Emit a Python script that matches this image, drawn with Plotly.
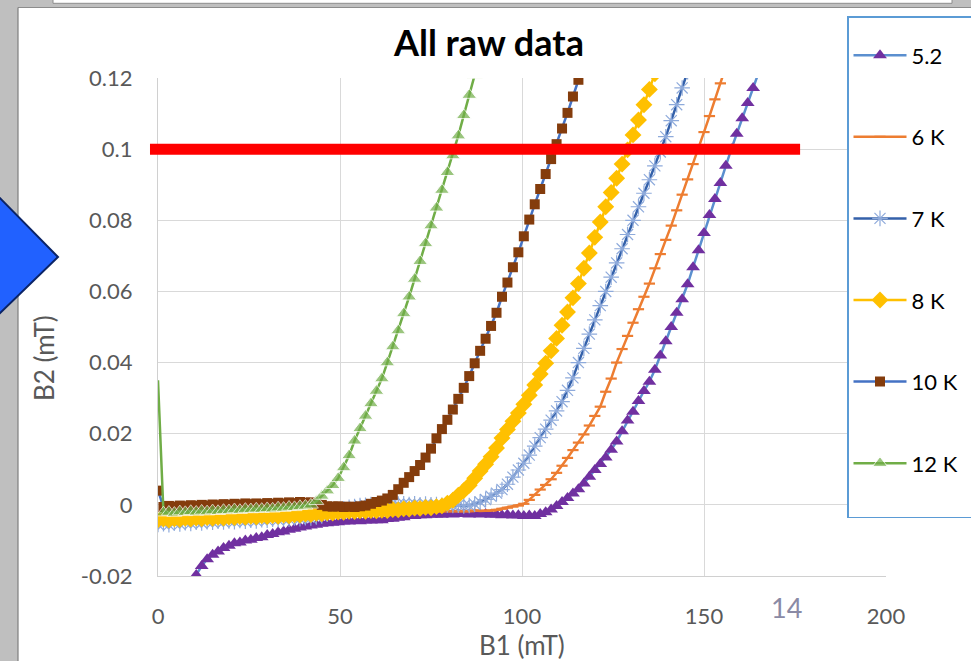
import plotly.graph_objects as go

# ---------------- data ----------------
B1_MT = [0, 1.5, 3, 4.5, 6, 7.5, 9, 10.5, 12, 13.5,
         15, 16.5, 18, 19.5, 21, 22.5, 24, 25.5, 27, 28.5,
         30, 31.5, 33, 34.5, 36, 37.5, 39, 40.5, 42, 43.5,
         45, 46.5, 48, 49.5, 51, 52.5, 54, 55.5, 57, 58.5,
         60, 61.5, 63, 64.5, 66, 67.5, 69, 70.5, 72, 73.5,
         75, 76.5, 78, 79.5, 81, 82.5, 84, 85.5, 87, 88.5,
         90, 91.5, 93, 94.5, 96, 97.5, 99, 100.5, 102, 103.5,
         105, 106.5, 108, 109.5, 111, 112.5, 114, 115.5, 117, 118.5,
         120, 121.5, 123, 124.5, 126, 127.5, 129, 130.5, 132, 133.5,
         135, 136.5, 138, 139.5, 141, 142.5, 144, 145.5, 147, 148.5,
         150, 151.5, 153, 154.5, 156, 157.5, 159, 160.5, 162, 163.5,
         165, 166.5, 168]

B2_T5_2 = [None, None, None, None, None, None, None, -0.0197, -0.0172, -0.0153,
           -0.0140, -0.0131, -0.0121, -0.0115, -0.0108, -0.0106, -0.0100, -0.0098, -0.0093, -0.0091,
           -0.0085, -0.0082, -0.0077, -0.0075, -0.0070, -0.0067, -0.0064, -0.0061, -0.0058, -0.0056,
           -0.0053, -0.0052, -0.0050, -0.0049, -0.0047, -0.0047, -0.0045, -0.0046, -0.0044, -0.0044,
           -0.0043, -0.0043, -0.0040, -0.0039, -0.0036, -0.0035, -0.0031, -0.0031, -0.0029, -0.0029,
           -0.0028, -0.0027, -0.0028, -0.0026, -0.0027, -0.0025, -0.0026, -0.0027, -0.0025, -0.0027,
           -0.0026, -0.0028, -0.0027, -0.0029, -0.0028, -0.0030, -0.0029, -0.0031, -0.0030, -0.0031,
           -0.0026, -0.0021, -0.0013, -0.0003, 0.0008, 0.0019, 0.0032, 0.0044, 0.0060, 0.0079,
           0.0098, 0.0115, 0.0133, 0.0155, 0.0178, 0.0207, 0.0237, 0.0262, 0.0292, 0.0320,
           0.0346, 0.0380, 0.0420, 0.0460, 0.0500, 0.0540, 0.0578, 0.0620, 0.0668, 0.0716,
           0.0764, 0.0815, 0.0860, 0.0905, 0.0953, 0.1000, 0.1043, 0.1087, 0.1130, 0.1172,
           0.1215, 0.1258, None]

B2_T6 = [-0.0040, -0.0038, -0.0039, -0.0036, -0.0037, -0.0035, -0.0035, -0.0033, -0.0034, -0.0032,
         -0.0033, -0.0031, -0.0032, -0.0030, -0.0031, -0.0029, -0.0030, -0.0028, -0.0029, -0.0028,
         -0.0027, -0.0028, -0.0026, -0.0027, -0.0025, -0.0026, -0.0025, -0.0024, -0.0025, -0.0023,
         -0.0024, -0.0023, -0.0022, -0.0023, -0.0022, -0.0021, -0.0022, -0.0021, -0.0020, -0.0021,
         -0.0020, -0.0021, -0.0019, -0.0020, -0.0019, -0.0020, -0.0018, -0.0019, -0.0018, -0.0019,
         -0.0018, -0.0019, -0.0017, -0.0018, -0.0017, -0.0018, -0.0017, -0.0018, -0.0016, -0.0017,
         -0.0017, -0.0016, -0.0014, -0.0011, -0.0008, -0.0005, -0.0002, 0.0003, 0.0014, 0.0028,
         0.0043, 0.0056, 0.0072, 0.0090, 0.0110, 0.0132, 0.0154, 0.0175, 0.0198, 0.0223,
         0.0250, 0.0276, 0.0318, 0.0355, 0.0400, 0.0438, 0.0475, 0.0512, 0.0550, 0.0585,
         0.0622, 0.0665, 0.0705, 0.0745, 0.0785, 0.0828, 0.0872, 0.0915, 0.0958, 0.1002,
         0.1048, 0.1093, 0.1140, 0.1185, 0.1232, None, None, None, None, None,
         None, None, None]

B2_T7 = [-0.0055, -0.0053, -0.0056, -0.0051, -0.0054, -0.0050, -0.0052, -0.0049, -0.0051, -0.0047,
         -0.0049, -0.0046, -0.0048, -0.0045, -0.0047, -0.0044, -0.0046, -0.0043, -0.0045, -0.0042,
         -0.0043, -0.0040, -0.0042, -0.0039, -0.0040, -0.0037, -0.0039, -0.0036, -0.0037, -0.0034,
         -0.0031, -0.0026, -0.0020, -0.0015, -0.0011, -0.0007, -0.0005, -0.0002, -0.0001, 0.0001,
         0.0000, 0.0003, 0.0001, 0.0004, 0.0002, 0.0003, 0.0001, 0.0003, 0.0000, 0.0002,
         0.0000, 0.0001, -0.0001, 0.0000, -0.0002, -0.0001, -0.0003, -0.0002, 0.0002, 0.0008,
         0.0015, 0.0024, 0.0033, 0.0043, 0.0058, 0.0078, 0.0098, 0.0117, 0.0140, 0.0165,
         0.0189, 0.0213, 0.0238, 0.0264, 0.0290, 0.0322, 0.0357, 0.0400, 0.0440, 0.0480,
         0.0520, 0.0560, 0.0600, 0.0640, 0.0680, 0.0720, 0.0760, 0.0800, 0.0838, 0.0876,
         0.0914, 0.0953, 0.0992, 0.1035, 0.1080, 0.1125, 0.1172, 0.1218, None, None,
         None, None, None, None, None, None, None, None, None, None,
         None, None, None]

B2_T8 = [-0.0042, -0.0040, -0.0043, -0.0039, -0.0041, -0.0038, -0.0040, -0.0037, -0.0039, -0.0036,
         -0.0038, -0.0035, -0.0037, -0.0034, -0.0036, -0.0033, -0.0035, -0.0032, -0.0034, -0.0031,
         -0.0033, -0.0030, -0.0032, -0.0029, -0.0031, -0.0028, -0.0029, -0.0026, -0.0027, -0.0024,
         -0.0025, -0.0022, -0.0023, -0.0020, -0.0021, -0.0018, -0.0019, -0.0017, -0.0018, -0.0016,
         -0.0017, -0.0015, -0.0016, -0.0013, -0.0014, -0.0011, -0.0012, -0.0009, -0.0010, -0.0007,
         -0.0008, -0.0005, -0.0003, 0.0005, 0.0013, 0.0027, 0.0040, 0.0055, 0.0075, 0.0095,
         0.0114, 0.0135, 0.0160, 0.0188, 0.0212, 0.0235, 0.0258, 0.0283, 0.0308, 0.0337,
         0.0368, 0.0398, 0.0433, 0.0468, 0.0505, 0.0542, 0.0582, 0.0622, 0.0665, 0.0708,
         0.0752, 0.0795, 0.0838, 0.0878, 0.0918, 0.0958, 0.0998, 0.1040, 0.1082, 0.1125,
         0.1168, 0.1212, None, None, None, None, None, None, None, None,
         None, None, None, None, None, None, None, None, None, None,
         None, None, None]

B2_T10 = [0.0040, -0.0006, -0.0003, -0.0005, -0.0002, -0.0004, -0.0001, -0.0003, 0.0000, -0.0002,
          0.0001, -0.0001, 0.0002, 0.0000, 0.0003, 0.0001, 0.0004, 0.0002, 0.0004, 0.0002,
          0.0005, 0.0003, 0.0006, 0.0004, 0.0007, 0.0005, 0.0008, 0.0006, 0.0007, 0.0004,
          0.0000, -0.0004, -0.0005, -0.0004, -0.0006, -0.0005, -0.0006, -0.0004, -0.0002, 0.0003,
          0.0008, 0.0012, 0.0018, 0.0028, 0.0044, 0.0062, 0.0078, 0.0095, 0.0112, 0.0133,
          0.0158, 0.0187, 0.0213, 0.0239, 0.0268, 0.0298, 0.0329, 0.0362, 0.0398, 0.0433,
          0.0467, 0.0503, 0.0540, 0.0585, 0.0625, 0.0668, 0.0710, 0.0755, 0.0802, 0.0845,
          0.0888, 0.0930, 0.0972, 0.1014, 0.1058, 0.1102, 0.1148, 0.1195, 0.1240, None,
          None, None, None, None, None, None, None, None, None, None,
          None, None, None, None, None, None, None, None, None, None,
          None, None, None, None, None, None, None, None, None, None,
          None, None, None]

B2_T12 = [0.0350, -0.0022, -0.0020, -0.0023, -0.0019, -0.0021, -0.0018, -0.0020, -0.0017, -0.0019,
          -0.0016, -0.0018, -0.0015, -0.0016, -0.0013, -0.0015, -0.0012, -0.0013, -0.0011, -0.0012,
          -0.0010, -0.0011, -0.0008, -0.0009, -0.0006, -0.0007, -0.0004, -0.0003, 0.0000, 0.0010,
          0.0025, 0.0040, 0.0055, 0.0075, 0.0105, 0.0139, 0.0180, 0.0215, 0.0250, 0.0285,
          0.0320, 0.0355, 0.0400, 0.0445, 0.0490, 0.0538, 0.0585, 0.0635, 0.0685, 0.0735,
          0.0785, 0.0835, 0.0885, 0.0935, 0.0982, 0.1038, 0.1095, 0.1152, 0.1208, 0.1265,
          None, None, None, None, None, None, None, None, None, None,
          None, None, None, None, None, None, None, None, None, None,
          None, None, None, None, None, None, None, None, None, None,
          None, None, None, None, None, None, None, None, None, None,
          None, None, None, None, None, None, None, None, None, None,
          None, None, None]

SERIES_NAMES = ["5.2", "6 K", "7 K", "8 K", "10 K", "12 K"]
X_TICKS = [0, 50, 100, 150, 200]
Y_TICKS = [-0.02, 0, 0.02, 0.04, 0.06, 0.08, 0.1, 0.12]
Y_TICK_TEXT = ["-0.02", "0", "0.02", "0.04", "0.06", "0.08", "0.1", "0.12"]
THRESHOLD_B2 = 0.1
THRESHOLD_B1_FROM, THRESHOLD_B1_TO = -2.2, 176.4
TITLE = "All raw data"
X_TITLE = "B1 (mT)"
Y_TITLE = "B2 (mT)"
PAGE_NUMBER = "14"

# ---------------- layout geometry ----------------
W, H = 971, 661
ML, MR, MT, MB = 158, 85, 78, 85
PW, PH = W - ML - MR, H - MT - MB
XMIN, XMAX = 0, 200
YMIN, YMAX = -0.02, 0.12
FONT = "Lato, 'Open Sans', sans-serif"
NBSP = "\u00a0"


def px(xp):
    return (xp - ML) / PW


def py(yp):
    return (MT + PH - yp) / PH


styles = [
    dict(line=dict(color="#5b8fcf", width=2.5),
         marker=dict(symbol="triangle-up", size=12, color="#7030a0")),
    dict(line=dict(color="#ed7d31", width=2.5),
         marker=dict(symbol="line-ew-open", size=8, color="#ed7d31",
                     line=dict(color="#ed7d31", width=2.2))),
    dict(line=dict(color="#3461aa", width=2.5),
         marker=dict(symbol="asterisk-open", size=13, color="#8eaadb",
                     line=dict(color="#8eaadb", width=1.2))),
    dict(line=dict(color="#ffc000", width=2.5),
         marker=dict(symbol="diamond", size=13, color="#ffc000")),
    dict(line=dict(color="#4472c4", width=2.5),
         marker=dict(symbol="square", size=10, color="#843c0c")),
    dict(line=dict(color="#70ad47", width=2.5),
         marker=dict(symbol="triangle-up", size=13, color="#70ad47")),
]
series = [B2_T5_2, B2_T6, B2_T7, B2_T8, B2_T10, B2_T12]

fig = go.Figure()
for name, ys, st in zip(SERIES_NAMES, series, styles):
    mk = dict(st["marker"])
    if name == "12 K":
        # first (spike) point has no visible marker in the original
        mk["size"] = [0] + [mk["size"]] * (len(ys) - 1)
    fig.add_trace(go.Scatter(x=B1_MT, y=ys, mode="lines+markers", name=name,
                             legendgroup=name, line=st["line"], marker=mk))

# invisible legend spacer: gives the legend box its bottom padding and extra width
fig.add_trace(go.Scatter(x=[None], y=[None], mode="markers", name=NBSP * 22,
                         legendgroup=SERIES_NAMES[-1], hoverinfo="skip",
                         marker=dict(color="rgba(0,0,0,0)", size=1)))

shapes = []
# slide background pieces
shapes.append(dict(type="rect", xref="paper", yref="paper", x0=px(-2), x1=px(18),
                   y0=py(-2), y1=py(H + 2), fillcolor="#bfbfbf", line=dict(width=0), layer="above"))
shapes.append(dict(type="rect", xref="paper", yref="paper", x0=px(18), x1=px(W + 2),
                   y0=py(-2), y1=py(7.5), fillcolor="#bfbfbf", line=dict(width=0), layer="above"))
shapes.append(dict(type="rect", xref="paper", yref="paper", x0=px(53), x1=px(952),
                   y0=py(-4), y1=py(3.3), fillcolor="#ffffff",
                   line=dict(color="#8c8c8c", width=1), layer="above"))
shapes.append(dict(type="line", xref="paper", yref="paper", x0=px(18), x1=px(W + 2),
                   y0=py(7.5), y1=py(7.5), line=dict(color="#8c8c8c", width=1), layer="above"))
shapes.append(dict(type="line", xref="paper", yref="paper", x0=px(18), x1=px(18),
                   y0=py(7.5), y1=py(H + 2), line=dict(color="#7f7f7f", width=1.2), layer="above"))
# blue chevron
chev = [(-6, 192), (58, 257), (-6, 319)]
path = "M " + " L ".join(f"{px(a)},{py(b)}" for a, b in chev) + " Z"
shapes.append(dict(type="path", xref="paper", yref="paper", path=path,
                   fillcolor="#2161ff", line=dict(color="#0b2466", width=2), layer="above"))
# red threshold bar
shapes.append(dict(type="line", xref="paper", yref="paper",
                   x0=(THRESHOLD_B1_FROM - XMIN) / (XMAX - XMIN),
                   x1=(THRESHOLD_B1_TO - XMIN) / (XMAX - XMIN),
                   y0=(THRESHOLD_B2 - YMIN) / (YMAX - YMIN),
                   y1=(THRESHOLD_B2 - YMIN) / (YMAX - YMIN),
                   line=dict(color="#ff0000", width=11), layer="above"))

annotations = [
    dict(text=f"<b>{TITLE}</b>", xref="paper", yref="paper", x=px(488), y=py(42),
         xanchor="center", yanchor="middle", showarrow=False,
         font=dict(family=FONT, size=36, color="#000000")),
    dict(text=X_TITLE, xref="paper", yref="paper", x=px(522), y=py(645),
         xanchor="center", yanchor="middle", showarrow=False,
         font=dict(family=FONT, size=26, color="#595959")),
    dict(text=Y_TITLE, xref="paper", yref="paper", x=px(44), y=py(358),
         xanchor="center", yanchor="middle", showarrow=False, textangle=-90,
         font=dict(family=FONT, size=26, color="#595959")),
    dict(text=PAGE_NUMBER, xref="paper", yref="paper", x=px(786), y=py(607),
         xanchor="center", yanchor="middle", showarrow=False,
         font=dict(family=FONT, size=27, color="#8a8aa5")),
]

fig.update_layout(
    width=W, height=H,
    margin=dict(l=ML, r=MR, t=MT, b=MB, autoexpand=False),
    paper_bgcolor="#ffffff", plot_bgcolor="#ffffff",
    font=dict(family=FONT, color="#595959"),
    showlegend=True,
    legend=dict(x=px(847), y=py(16), xanchor="left", yanchor="top",
                bgcolor="#ffffff", bordercolor="#5b9bd5", borderwidth=1.5,
                font=dict(family=FONT, size=22, color="#000000"),
                title=dict(text=NBSP, font=dict(family=FONT, size=13)),
                tracegroupgap=50, itemwidth=53, maxheight=640),
    shapes=shapes,
    annotations=annotations,
    xaxis=dict(range=[XMIN, XMAX], tickvals=X_TICKS, ticktext=[str(v) for v in X_TICKS],
               showgrid=True, gridcolor="#d9d9d9", gridwidth=1.3, zeroline=False,
               showline=True, linecolor="#d0d0d0", linewidth=1.3,
               ticks="outside", ticklen=20, tickcolor="rgba(0,0,0,0)",
               tickfont=dict(family=FONT, size=22, color="#595959")),
    yaxis=dict(range=[YMIN, YMAX], tickvals=Y_TICKS, ticktext=Y_TICK_TEXT,
               showgrid=True, gridcolor="#d9d9d9", gridwidth=1.3, zeroline=False,
               showline=True, linecolor="#d0d0d0", linewidth=1.3,
               ticks="outside", ticklen=20, tickcolor="rgba(0,0,0,0)",
               tickfont=dict(family=FONT, size=22, color="#595959")),
)

fig.write_html("out.html", config={"displayModeBar": False},
               post_script="document.body.style.margin='0';document.body.style.overflow='hidden';")
